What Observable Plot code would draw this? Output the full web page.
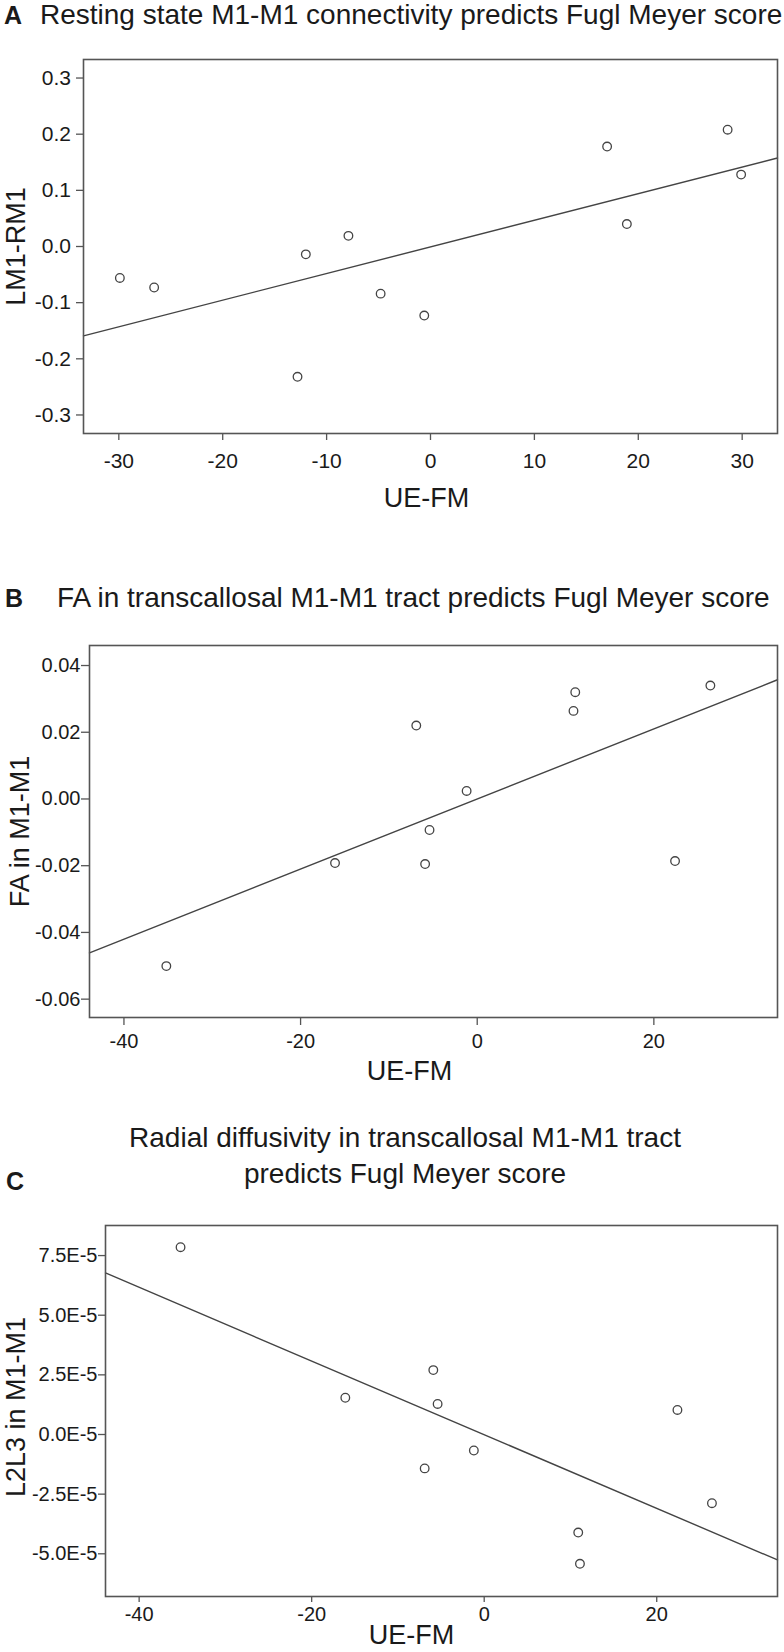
<!DOCTYPE html>
<html><head><meta charset="utf-8">
<script src="https://cdn.jsdelivr.net/npm/d3@7"></script>
<script src="https://cdn.jsdelivr.net/npm/@observablehq/plot@0.6"></script>
<style>
body{margin:0;background:#fff;}
#page{position:relative;width:784px;height:1652px;overflow:hidden;font-family:"Liberation Sans",Arial,Helvetica,sans-serif;color:#1a1a1a;}
.ttl{position:absolute;font-size:28px;line-height:32px;white-space:nowrap;}
.lbl{position:absolute;font-weight:bold;font-size:25px;line-height:32px;}
.panel{position:absolute;left:0;}
.panel svg{display:block;}
</style></head><body>
<div id="page">
  <div class="panel" id="pA" style="top:50px"></div>
  <div class="panel" id="pB" style="top:630px"></div>
  <div class="panel" id="pC" style="top:1210px"></div>
  <div class="lbl" style="left:4px;top:-1px">A</div>
  <div class="ttl" style="left:40px;top:-1px">Resting state M1-M1 connectivity predicts Fugl Meyer score</div>
  <div class="lbl" style="left:5px;top:582px">B</div>
  <div class="ttl" style="left:57px;top:582px">FA in transcallosal M1-M1 tract predicts Fugl Meyer score</div>
  <div class="lbl" style="left:6px;top:1165px">C</div>
  <div class="ttl" style="left:5px;width:800px;top:1120px;line-height:35.5px;text-align:center">Radial diffusivity in transcallosal M1-M1 tract<br>predicts Fugl Meyer score</div>
</div>
<script>
// Panel A: resting-state connectivity
const fmA   = [-29.9, -26.6, -12.8, -12.0, -7.9, -4.8, -0.6, 17.0, 18.9, 28.6, 29.9];
const connA = [-0.056, -0.073, -0.232, -0.014, 0.019, -0.084, -0.123, 0.178, 0.040, 0.208, 0.128];
// Panels B and C share subjects
const fmBC  = [-35.2, -16.1, -6.9, -5.9, -5.4, -1.2, 10.9, 11.1, 22.4, 26.4];
const faB   = [-0.0501, -0.0192, 0.0220, -0.0195, -0.0093, 0.0024, 0.0264, 0.0320, -0.0186, 0.0340];
const rdC   = [7.85e-5, 1.54e-5, -1.42e-5, 2.70e-5, 1.28e-5, -0.67e-5, -4.11e-5, -5.42e-5, 1.03e-5, -2.88e-5];

const ticksAx = [-30, -20, -10, 0, 10, 20, 30];
const ticksAy = [-0.3, -0.2, -0.1, 0.0, 0.1, 0.2, 0.3];
const ticksBx = [-40, -20, 0, 20];
const ticksBy = [-0.06, -0.04, -0.02, 0.00, 0.02, 0.04];
const ticksCx = [-40, -20, 0, 20];
const ticksCy = [-5.0e-5, -2.5e-5, 0, 2.5e-5, 5.0e-5, 7.5e-5];

const labelsA = {x: "UE-FM", y: "LM1-RM1"};
const labelsB = {x: "UE-FM", y: "FA in M1-M1"};
const labelsC = {x: "UE-FM", y: "L2L3 in M1-M1"};

const FONT = '"Liberation Sans", Arial, Helvetica, sans-serif';
const INK = "#444";

function ols(xs, ys) {
  const mx = d3.mean(xs), my = d3.mean(ys);
  let sxy = 0, sxx = 0;
  xs.forEach((x, i) => { sxy += (x - mx) * (ys[i] - my); sxx += (x - mx) ** 2; });
  const b = sxy / sxx;
  return {a: my - b * mx, b};
}

function panel(cfg) {
  const pts = cfg.xs.map((x, i) => ({x, y: cfg.ys[i]}));
  const f = ols(cfg.xs, cfg.ys);
  const fit = cfg.xDomain.map(x => ({x, y: f.a + f.b * x}));
  return Plot.plot({
    width: 784, height: cfg.height,
    marginTop: cfg.mt, marginBottom: cfg.mb, marginLeft: cfg.ml, marginRight: cfg.mr,
    style: {fontFamily: FONT, fontSize: cfg.tickFont + "px", color: "#1a1a1a", background: "transparent", overflow: "visible"},
    x: {domain: cfg.xDomain, axis: null},
    y: {domain: cfg.yDomain, axis: null},
    marks: [
      Plot.axisX(cfg.xTicks, {tickFormat: d => String(d), tickSize: cfg.xts, tickPadding: cfg.xtp, stroke: "#555", strokeWidth: 1.3, fill: "#1a1a1a", fontSize: cfg.tickFont, label: null}),
      Plot.axisY(cfg.yTicks, {tickFormat: cfg.yFormat, tickSize: cfg.yts, tickPadding: cfg.ytp, stroke: "#555", strokeWidth: 1.3, fill: "#1a1a1a", fontSize: cfg.tickFont, label: null}),
      Plot.line(fit, {x: "x", y: "y", stroke: INK, strokeWidth: 1.4}),
      Plot.dot(pts, {x: "x", y: "y", r: 4.3, stroke: INK, strokeWidth: 1.3, fill: "none"}),
      Plot.frame({stroke: "#555", strokeWidth: 1.6}),
      Plot.text([cfg.labels.x], {text: d => d, frameAnchor: "bottom", dy: cfg.xlDy, dx: cfg.xlDx, fontSize: 27, textAnchor: "middle", lineAnchor: "middle", fill: "#1a1a1a"}),
      Plot.text([cfg.labels.y], {text: d => d, frameAnchor: "left", rotate: -90, dx: cfg.ylDx, dy: cfg.ylDy || 0, fontSize: 27, textAnchor: "middle", lineAnchor: "middle", fill: "#1a1a1a"})
    ]
  });
}

document.getElementById("pA").appendChild(panel({
  xs: fmA, ys: connA, labels: labelsA,
  height: 470, mt: 9, mb: 87, ml: 83, mr: 7,
  xDomain: [-33.4, 33.4], yDomain: [-0.333, 0.333],
  xTicks: ticksAx, yTicks: ticksAy, yFormat: d => d.toFixed(1),
  tickFont: 21, xts: 7, xtp: 12.5, yts: 7, ytp: 5.5,
  xlDy: 65, xlDx: -4, ylDx: -67
}));

document.getElementById("pB").appendChild(panel({
  xs: fmBC, ys: faB, labels: labelsB,
  height: 470, mt: 15, mb: 83, ml: 89, mr: 7,
  xDomain: [-43.9, 34.0], yDomain: [-0.0655, 0.046],
  xTicks: ticksBx, yTicks: ticksBy, yFormat: d => d.toFixed(2),
  tickFont: 20, xts: 8, xtp: 8, yts: 8, ytp: 1,
  xlDy: 54, xlDx: -24, ylDx: -69
}));

document.getElementById("pC").appendChild(panel({
  xs: fmBC, ys: rdC, labels: labelsC,
  height: 442, mt: 15, mb: 56, ml: 105, mr: 7,
  xDomain: [-43.9, 34.0], yDomain: [-6.79e-5, 8.76e-5],
  xTicks: ticksCx, yTicks: ticksCy, yFormat: d => (d * 1e5).toFixed(1) + "E-5",
  tickFont: 20, xts: 6, xtp: 4, yts: 7, ytp: 1,
  xlDy: 39, xlDx: -30, ylDx: -89, ylDy: -4
}));
</script>
</body></html>
